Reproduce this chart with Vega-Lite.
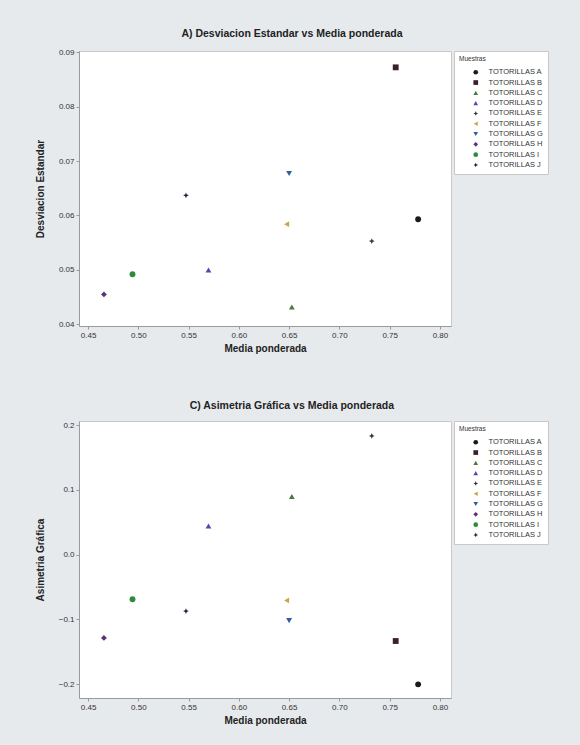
{
  "$schema": "https://vega.github.io/schema/vega-lite/v6.json",
  "background": "#e7eaed",
  "padding": {"left": 34, "top": 28, "right": 31, "bottom": 20},
  "data": {
    "values": [
      {"muestra": "TOTORILLAS A", "media": 0.7783, "de": 0.0593, "ag": -0.2005},
      {"muestra": "TOTORILLAS B", "media": 0.7560, "de": 0.0872, "ag": -0.1335},
      {"muestra": "TOTORILLAS C", "media": 0.6527, "de": 0.0432, "ag": 0.0898},
      {"muestra": "TOTORILLAS D", "media": 0.5698, "de": 0.0500, "ag": 0.0442},
      {"muestra": "TOTORILLAS E", "media": 0.7322, "de": 0.0553, "ag": 0.1835},
      {"muestra": "TOTORILLAS F", "media": 0.6475, "de": 0.0584, "ag": -0.0708},
      {"muestra": "TOTORILLAS G", "media": 0.6500, "de": 0.0677, "ag": -0.1020},
      {"muestra": "TOTORILLAS H", "media": 0.4658, "de": 0.0455, "ag": -0.1287},
      {"muestra": "TOTORILLAS I", "media": 0.4942, "de": 0.0492, "ag": -0.0690},
      {"muestra": "TOTORILLAS J", "media": 0.5474, "de": 0.0637, "ag": -0.0873}
    ]
  },
  "spacing": 46,
  "resolve": {"scale": {"color": "independent", "shape": "independent"}, "legend": {"color": "independent", "shape": "independent"}},
  "config": {
    "font": "Liberation Sans",
    "view": {"fill": "white", "stroke": "#c9c9c9"},
    "axis": {"labelFontSize": 8, "titleFontSize": 10, "titleFontWeight": "bold", "grid": false, "domainColor": "#9a9a9a", "tickColor": "#9a9a9a", "tickSize": 3, "labelColor": "#333333", "titleColor": "#222222", "labelPadding": 2},
    "axisY": {"titlePadding": 13},
    "title": {"fontSize": 10.5, "fontWeight": "bold", "anchor": "middle", "frame": "bounds", "color": "#222222"},
    "legend": {"orient": "right", "offset": 3, "padding": 5, "fillColor": "white", "strokeColor": "#c8c8c8", "titleFontSize": 6.5, "titleFontWeight": "normal", "titleColor": "#333333", "labelFontSize": 7.5, "labelColor": "#333333", "symbolSize": 22, "symbolOffset": 13, "rowPadding": 1.3, "titlePadding": 6, "labelOffset": 9}
  },
  "vconcat": [
    {
      "title": {"text": "A) Desviacion Estandar vs Media ponderada", "offset": 9},
      "width": 372,
      "height": 275,
      "mark": {"type": "point", "filled": true, "opacity": 1, "size": 34},
      "encoding": {
        "x": {"field": "media", "type": "quantitative", "scale": {"domain": [0.441, 0.811], "nice": false, "zero": false}, "axis": {"title": "Media ponderada", "values": [0.45, 0.5, 0.55, 0.6, 0.65, 0.7, 0.75, 0.8], "format": ".2f"}},
        "y": {"field": "de", "type": "quantitative", "scale": {"domain": [0.0397, 0.0902], "nice": false, "zero": false}, "axis": {"title": "Desviacion Estandar", "values": [0.04, 0.05, 0.06, 0.07, 0.08, 0.09], "format": ".2f"}},
        "color": {"field": "muestra", "type": "nominal", "title": "Muestras", "scale": {"domain": ["TOTORILLAS A", "TOTORILLAS B", "TOTORILLAS C", "TOTORILLAS D", "TOTORILLAS E", "TOTORILLAS F", "TOTORILLAS G", "TOTORILLAS H", "TOTORILLAS I", "TOTORILLAS J"], "range": ["#1a1a1a", "#3b1f2b", "#4c7a3c", "#5746b0", "#333344", "#c9a646", "#2d5f9e", "#5a3575", "#2f8a3a", "#23233f"]}},
        "shape": {"field": "muestra", "type": "nominal", "title": "Muestras", "scale": {"domain": ["TOTORILLAS A", "TOTORILLAS B", "TOTORILLAS C", "TOTORILLAS D", "TOTORILLAS E", "TOTORILLAS F", "TOTORILLAS G", "TOTORILLAS H", "TOTORILLAS I", "TOTORILLAS J"], "range": ["circle", "square", "triangle-up", "triangle-up", "M0,-1L0.3,-0.3L1,0L0.3,0.3L0,1L-0.3,0.3L-1,0L-0.3,-0.3Z", "triangle-left", "triangle-down", "diamond", "circle", "M0,-1L0.3,-0.3L1,0L0.3,0.3L0,1L-0.3,0.3L-1,0L-0.3,-0.3Z"]}}
      }
    },
    {
      "title": {"text": "C) Asimetria Gráfica vs Media ponderada", "offset": 9},
      "width": 372,
      "height": 277,
      "mark": {"type": "point", "filled": true, "opacity": 1, "size": 34},
      "encoding": {
        "x": {"field": "media", "type": "quantitative", "scale": {"domain": [0.441, 0.811], "nice": false, "zero": false}, "axis": {"title": "Media ponderada", "values": [0.45, 0.5, 0.55, 0.6, 0.65, 0.7, 0.75, 0.8], "format": ".2f"}},
        "y": {"field": "ag", "type": "quantitative", "scale": {"domain": [-0.2216, 0.2066], "nice": false, "zero": false}, "axis": {"title": "Asimetria Gráfica", "values": [-0.2, -0.1, 0, 0.1, 0.2], "format": ".1f"}},
        "color": {"field": "muestra", "type": "nominal", "title": "Muestras", "scale": {"domain": ["TOTORILLAS A", "TOTORILLAS B", "TOTORILLAS C", "TOTORILLAS D", "TOTORILLAS E", "TOTORILLAS F", "TOTORILLAS G", "TOTORILLAS H", "TOTORILLAS I", "TOTORILLAS J"], "range": ["#1a1a1a", "#3b1f2b", "#4c7a3c", "#5746b0", "#333344", "#c9a646", "#2d5f9e", "#5a3575", "#2f8a3a", "#23233f"]}},
        "shape": {"field": "muestra", "type": "nominal", "title": "Muestras", "scale": {"domain": ["TOTORILLAS A", "TOTORILLAS B", "TOTORILLAS C", "TOTORILLAS D", "TOTORILLAS E", "TOTORILLAS F", "TOTORILLAS G", "TOTORILLAS H", "TOTORILLAS I", "TOTORILLAS J"], "range": ["circle", "square", "triangle-up", "triangle-up", "M0,-1L0.3,-0.3L1,0L0.3,0.3L0,1L-0.3,0.3L-1,0L-0.3,-0.3Z", "triangle-left", "triangle-down", "diamond", "circle", "M0,-1L0.3,-0.3L1,0L0.3,0.3L0,1L-0.3,0.3L-1,0L-0.3,-0.3Z"]}}
      }
    }
  ]
}
